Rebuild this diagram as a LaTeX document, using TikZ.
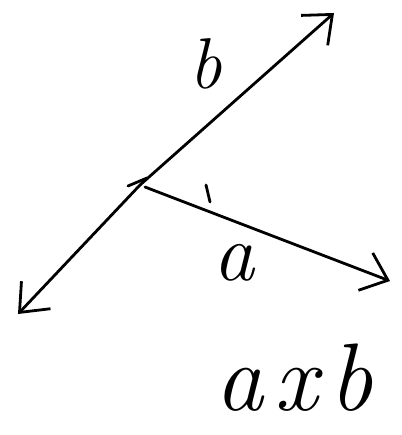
\documentclass[tikz,border=0pt]{standalone}
\usetikzlibrary{arrows.meta}
\tikzset{
  vec/.style={line width=2.8pt, line cap=round, -{Straight Barb[length=24pt,width=40pt,line width=2.8pt]}},
  stroke/.style={line width=2.8pt, line cap=round},
  lbl/.style={inner sep=0pt, font=\itshape}
}
\begin{document}
\begin{tikzpicture}[x=1pt,y=-1pt]
    \useasboundingbox (0,0) rectangle (401,435);

    % points
    \coordinate (O) at (140,185);
    \coordinate (btip) at (334,13);
    \coordinate (ntip) at (18,314);
    \coordinate (atip) at (390,281);

    % vectors
    \draw[vec] (O) -- (btip);
    \draw[vec] (O) -- (ntip);
    \draw[vec] ([shift={(5,2)}]O) -- (atip);

    % small strokes
    \draw[stroke] (128,186) -- (147,178);
    \draw[stroke] (206,185) -- (210,202);

    % labels
    \node[lbl, font=\itshape\fontsize{72}{72}\selectfont] (blabel) at (206,64) {b};
    \node[lbl, font=\itshape\fontsize{82}{82}\selectfont, anchor=base] (alabel) at (234,280) {a};
    \node[lbl, font=\itshape\fontsize{96}{96}\selectfont, anchor=base] (cross) at (294,410) {\spaceskip=0.12em\relax a x b};
\end{tikzpicture}
\end{document}
